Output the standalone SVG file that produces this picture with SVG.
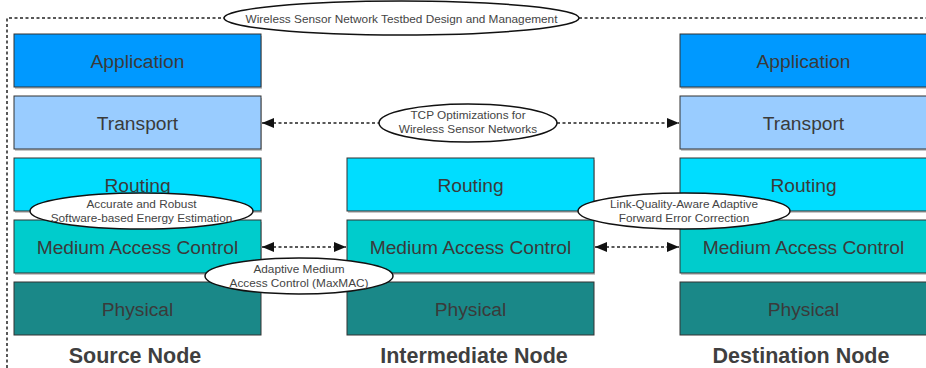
<svg xmlns="http://www.w3.org/2000/svg" width="926" height="368" viewBox="0 0 926 368">
<style>
.box{stroke:#333;stroke-width:1}
.shadow{fill:#c8c8c8}
.app{fill:#0099ff}
.tra{fill:#99ccff}
.rou{fill:#00ddff}
.mac{fill:#00cccc}
.phy{fill:#1a8888}
.lt{font-family:"Liberation Sans",Arial,sans-serif;font-size:19.2px;fill:#3a3a3a;text-anchor:middle}
.nl{font-family:"Liberation Sans",Arial,sans-serif;font-size:21.5px;font-weight:bold;fill:#3f3f3f;text-anchor:middle}
.el{fill:#fff;stroke:#111;stroke-width:1.5}
.et{font-family:"Liberation Sans",Arial,sans-serif;font-size:11.8px;fill:#444;text-anchor:middle}
.dash{fill:none;stroke:#222;stroke-width:1.5;stroke-dasharray:3,2.5}
</style>
<defs>
<marker id="ah" viewBox="0 0 12 10" refX="12" refY="5" markerWidth="12" markerHeight="10" markerUnits="userSpaceOnUse" orient="auto-start-reverse">
<path d="M0,0 L12,5 L0,10 z" fill="#111"/>
</marker>
</defs>
<rect width="926" height="368" fill="#fff"/>
<g id="frame">
<path class="dash" d="M7,368 L7,18 L224,18 M579,18 L926,18"/>
</g>
<g id="source">
<rect class="shadow" x="15" y="36" width="247" height="53"/>
<rect class="box app" x="14" y="34" width="247" height="53"/>
<text class="lt" x="137.5" y="68">Application</text>
<rect class="shadow" x="15" y="98" width="247" height="53"/>
<rect class="box tra" x="14" y="96" width="247" height="53"/>
<text class="lt" x="137.5" y="130">Transport</text>
<rect class="shadow" x="15" y="160" width="247" height="53"/>
<rect class="box rou" x="14" y="158" width="247" height="53"/>
<text class="lt" x="137.5" y="192">Routing</text>
<rect class="shadow" x="15" y="222" width="247" height="53"/>
<rect class="box mac" x="14" y="220" width="247" height="53"/>
<text class="lt" x="137.5" y="254">Medium Access Control</text>
<rect class="box phy" x="14" y="282" width="247" height="53"/>
<text class="lt" x="137.5" y="316">Physical</text>
<text class="nl" x="135" y="363">Source Node</text>
</g>
<g id="intermediate">
<rect class="shadow" x="348" y="160" width="247" height="53"/>
<rect class="box rou" x="347" y="158" width="247" height="53"/>
<text class="lt" x="470.5" y="192">Routing</text>
<rect class="shadow" x="348" y="222" width="247" height="53"/>
<rect class="box mac" x="347" y="220" width="247" height="53"/>
<text class="lt" x="470.5" y="254">Medium Access Control</text>
<rect class="box phy" x="347" y="282" width="247" height="53"/>
<text class="lt" x="470.5" y="316">Physical</text>
<text class="nl" x="474" y="363">Intermediate Node</text>
</g>
<g id="destination">
<rect class="shadow" x="681" y="36" width="247" height="53"/>
<rect class="box app" x="680" y="34" width="247" height="53"/>
<text class="lt" x="803.5" y="68">Application</text>
<rect class="shadow" x="681" y="98" width="247" height="53"/>
<rect class="box tra" x="680" y="96" width="247" height="53"/>
<text class="lt" x="803.5" y="130">Transport</text>
<rect class="shadow" x="681" y="160" width="247" height="53"/>
<rect class="box rou" x="680" y="158" width="247" height="53"/>
<text class="lt" x="803.5" y="192">Routing</text>
<rect class="shadow" x="681" y="222" width="247" height="53"/>
<rect class="box mac" x="680" y="220" width="247" height="53"/>
<text class="lt" x="803.5" y="254">Medium Access Control</text>
<rect class="box phy" x="680" y="282" width="247" height="53"/>
<text class="lt" x="803.5" y="316">Physical</text>
<text class="nl" x="801" y="363">Destination Node</text>
</g>
<g id="connectors">
<path class="dash" d="M262,123 L379,123" marker-start="url(#ah)"/>
<path class="dash" d="M557,123 L679,123" marker-end="url(#ah)"/>
<path class="dash" d="M262,247 L346,247" marker-start="url(#ah)" marker-end="url(#ah)"/>
<path class="dash" d="M595,247 L679,247" marker-start="url(#ah)" marker-end="url(#ah)"/>
</g>
<g id="title">
<ellipse class="el" cx="401.5" cy="18" rx="177.5" ry="17"/>
<text class="et" x="401.5" y="22.5">Wireless Sensor Network Testbed Design and Management</text>
</g>
<g id="tcp">
<ellipse class="el" cx="468" cy="123" rx="89" ry="19"/>
<text class="et" x="468" y="119">TCP Optimizations for</text>
<text class="et" x="468" y="132.5">Wireless Sensor Networks</text>
</g>
<g id="energy">
<ellipse class="el" cx="141.5" cy="211" rx="111.5" ry="18"/>
<text class="et" x="141.5" y="208">Accurate and Robust</text>
<text class="et" x="141.5" y="221.5">Software-based Energy Estimation</text>
</g>
<g id="maxmac">
<ellipse class="el" cx="299" cy="276" rx="94" ry="18"/>
<text class="et" x="299" y="273">Adaptive Medium</text>
<text class="et" x="299" y="286.5">Access Control (MaxMAC)</text>
</g>
<g id="fec">
<ellipse class="el" cx="684" cy="211" rx="106" ry="18"/>
<text class="et" x="684" y="208">Link-Quality-Aware Adaptive</text>
<text class="et" x="684" y="221.5">Forward Error Correction</text>
</g>
</svg>
